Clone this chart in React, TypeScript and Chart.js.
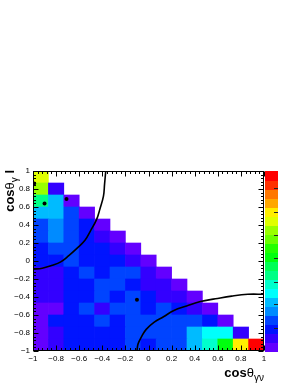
import React, { useEffect, useRef } from 'react';
import { Chart, registerables } from 'chart.js';

Chart.register(...registerables);

// ---- histogram definition (15 x 15 bins on [-1,1] x [-1,1]) ----
const nBins = 15;
const axisMin = -1;
const axisMax = 1;

// bin contents (colour-scale units 0..20), rows from cosθγl = 1 downward,
// each row listing bins from cosθγν = -1 to the right
const row00 = [14];
const row01 = [13, 1];
const row02 = [8, 5, 0];
const row03 = [5, 5, 3, 0];
const row04 = [3, 4, 3, 2, 0];
const row05 = [3, 4, 3, 2, 1, 0];
const row06 = [2, 3, 3, 2, 2, 1, 0];
const row07 = [2, 2, 3, 2, 2, 2, 1, 0];
const row08 = [1, 1, 2, 3, 2, 3, 3, 1, 0];
const row09 = [1, 1, 2, 2, 3, 3, 2, 1, 1, 0];
const row10 = [1, 1, 2, 2, 3, 2, 3, 2, 1, 1, 0];
const row11 = [0, 0, 2, 3, 1, 3, 3, 2, 3, 2, 1, 0];
const row12 = [0, 2, 2, 2, 3, 2, 3, 3, 3, 3, 3, 2, 0];
const row13 = [0, 1, 2, 2, 2, 2, 3, 3, 3, 3, 5, 6, 6, 1];
const row14 = [0, 1, 2, 2, 2, 2, 3, 2, 3, 3, 5, 7, 10, 15, 19];
const cellRows = [row00, row01, row02, row03, row04, row05, row06, row07, row08, row09, row10, row11, row12, row13, row14];

const zMax = 20;
const paletteTickValues = [2.6, 5.2, 7.7, 10.3, 12.9, 15.5, 18.1];

// boundary curves
const curveAx = [-0.37, -0.38, -0.39, -0.42, -0.45, -0.5, -0.55, -0.62, -0.69, -0.76, -0.84, -0.92, -1.0];
const curveAy = [1.0, 0.86, 0.72, 0.58, 0.46, 0.34, 0.23, 0.14, 0.06, -0.01, -0.05, -0.08, -0.09];
const curveBx = [-0.1, -0.09, -0.06, -0.02, 0.05, 0.13, 0.22, 0.33, 0.45, 0.58, 0.72, 0.86, 1.0];
const curveBy = [-1.0, -0.92, -0.84, -0.76, -0.68, -0.62, -0.55, -0.5, -0.45, -0.42, -0.39, -0.37, -0.37];

// single events
const markerX = [-0.99, -0.9, -0.71, -0.1];
const markerY = [0.86, 0.64, 0.69, -0.43];

const FONT = '"Liberation Sans", Arial, Helvetica, sans-serif';

function paletteColor(c: number): string {
  const idx = Math.floor(((c + 0.99) * 50) / 20);
  const hue = 280 - (idx + 1) * 5.6;
  return `hsl(${hue.toFixed(1)}, 100%, 50%)`;
}
function levelOf(v: number): number {
  return Math.max(0, Math.min(19, Math.floor((v / zMax) * 20)));
}

function fmtTick(value: number | string): string {
  const v = Math.round(Number(value) * 10) / 10;
  if (v === 0) return '0';
  return (v < 0 ? '\u2212' : '') + String(Math.abs(v));
}

type Seg = { t: string; f: string; dy?: number };
function segWidth(ctx: CanvasRenderingContext2D, segs: Seg[]) {
  let w = 0;
  for (const s of segs) {
    ctx.font = s.f;
    w += ctx.measureText(s.t).width;
  }
  return w;
}
function drawSegs(ctx: CanvasRenderingContext2D, segs: Seg[], x0: number, y0: number) {
  let x = x0;
  ctx.textBaseline = 'alphabetic';
  ctx.textAlign = 'left';
  for (const s of segs) {
    ctx.font = s.f;
    ctx.fillText(s.t, x, y0 + (s.dy || 0));
    x += ctx.measureText(s.t).width;
  }
}

const framePlugin = {
  id: 'rootFrame',
  afterDraw(chart: any) {
    const { ctx, chartArea: a, scales } = chart;
    const xs = scales.x;
    const ys = scales.y;
    ctx.save();
    // frame
    ctx.strokeStyle = '#000';
    ctx.lineWidth = 1;
    const L = Math.round(a.left) + 0.5;
    const R = Math.round(a.right) - 0.5;
    const T = Math.round(a.top) + 0.5;
    const B = Math.round(a.bottom) - 0.5;
    ctx.strokeRect(L, T, R - L, B - T);
    // ticks (major 0.2, minor 0.04), drawn inside the frame
    ctx.beginPath();
    for (let k = 0; k <= 50; k++) {
      const v = axisMin + k * 0.04;
      const len = k % 5 === 0 ? 5 : 2.5;
      const px = Math.round(xs.getPixelForValue(v)) + 0.5;
      ctx.moveTo(px, B);
      ctx.lineTo(px, B - len);
      ctx.moveTo(px, T);
      ctx.lineTo(px, T + len);
      const py = Math.round(ys.getPixelForValue(v)) + 0.5;
      ctx.moveTo(L, py);
      ctx.lineTo(L + len, py);
      ctx.moveTo(R, py);
      ctx.lineTo(R - len, py);
    }
    ctx.stroke();

    // colour palette
    const px0 = Math.round(a.right) + 1;
    const pw = 13;
    const h = (a.bottom - a.top) / 20;
    for (let c = 0; c < 20; c++) {
      ctx.fillStyle = paletteColor(c);
      const yTop = a.bottom - (c + 1) * h;
      ctx.fillRect(px0, Math.floor(yTop), pw, Math.ceil(h) + 1);
    }
    ctx.strokeStyle = '#222';
    ctx.beginPath();
    for (const t of paletteTickValues) {
      const py = Math.round(a.bottom - (t / zMax) * (a.bottom - a.top)) + 0.5;
      ctx.moveTo(px0 + pw, py);
      ctx.lineTo(px0 + pw - 4, py);
    }
    ctx.stroke();

    // axis titles
    ctx.fillStyle = '#000';
    const xTitle: Seg[] = [
      { t: 'cos', f: `bold 13px ${FONT}` },
      { t: 'θ', f: `13px ${FONT}` },
      { t: 'γν', f: `10px ${FONT}`, dy: 4 },
    ];
    const wx = segWidth(ctx, xTitle);
    drawSegs(ctx, xTitle, a.right - wx, 377);

    const yTitle: Seg[] = [
      { t: 'cos', f: `bold 13px ${FONT}` },
      { t: 'θ', f: `13px ${FONT}` },
      { t: 'γ', f: `10px ${FONT}`, dy: 4 },
      { t: ' l', f: `bold 13px ${FONT}` },
    ];
    const wy = segWidth(ctx, yTitle);
    ctx.translate(14, a.top - 1 + wy);
    ctx.rotate(-Math.PI / 2);
    drawSegs(ctx, yTitle, 0, 0);
    ctx.restore();
  },
};

export default function App() {
  const ref = useRef<HTMLCanvasElement | null>(null);

  useEffect(() => {
    const canvas = ref.current;
    if (!canvas) return;
    const bw = (axisMax - axisMin) / nBins;
    const cells: { x: number; y: [number, number] }[] = [];
    const colors: string[] = [];
    cellRows.forEach((row, r) => {
      const top = axisMax - r * bw;
      row.forEach((v, c) => {
        cells.push({ x: axisMin + (c + 0.5) * bw, y: [top - bw, top] });
        colors.push(paletteColor(levelOf(v)));
      });
    });
    const curveA = curveAx.map((x, i) => ({ x, y: curveAy[i] }));
    const curveB = curveBx.map((x, i) => ({ x, y: curveBy[i] }));
    const markers = markerX.map((x, i) => ({ x, y: markerY[i] }));

    const tickFont = { family: FONT, size: 8 };
    const chart = new Chart(canvas, {
      type: 'bar',
      data: {
        datasets: [
          {
            type: 'bar',
            data: cells as any,
            backgroundColor: colors,
            borderWidth: 0,
            barPercentage: 1,
            categoryPercentage: 1,
            grouped: false,
            order: 3,
          } as any,
          {
            type: 'line',
            data: curveA,
            borderColor: '#000',
            borderWidth: 1.6,
            pointRadius: 0,
            tension: 0.4,
            fill: false,
            order: 1,
          },
          {
            type: 'line',
            data: curveB,
            borderColor: '#000',
            borderWidth: 1.6,
            pointRadius: 0,
            tension: 0.4,
            fill: false,
            order: 1,
          },
          {
            type: 'scatter',
            data: markers,
            pointRadius: 2,
            backgroundColor: '#000',
            borderWidth: 0,
            order: 0,
          },
        ],
      },
      options: {
        responsive: false,
        animation: false,
        events: [],
        layout: { padding: { left: 0, top: 171, right: 36, bottom: 0 } },
        plugins: { legend: { display: false }, tooltip: { enabled: false } },
        scales: {
          x: {
            type: 'linear',
            min: axisMin,
            max: axisMax,
            offset: false,
            grid: { display: false, drawTicks: false },
            border: { display: false },
            ticks: {
              stepSize: 0.2,
              padding: 3,
              autoSkip: false,
              maxRotation: 0,
              color: '#000',
              font: tickFont,
              callback: (v: any) => fmtTick(v),
            },
            afterFit: (s: any) => {
              s.height = 37;
            },
          },
          y: {
            type: 'linear',
            min: axisMin,
            max: axisMax,
            grid: { display: false, drawTicks: false },
            border: { display: false },
            ticks: {
              stepSize: 0.2,
              padding: 3,
              autoSkip: false,
              color: '#000',
              font: tickFont,
              callback: (v: any) => fmtTick(v),
            },
            afterFit: (s: any) => {
              s.width = 33;
            },
          },
        },
      } as any,
      plugins: [framePlugin],
    });
    return () => chart.destroy();
  }, []);

  return (
    <div style={{ position: 'absolute', left: 0, top: 0, width: 300, height: 388, background: '#fff' }}>
      <canvas ref={ref} width={300} height={388} style={{ display: 'block' }} />
    </div>
  );
}
